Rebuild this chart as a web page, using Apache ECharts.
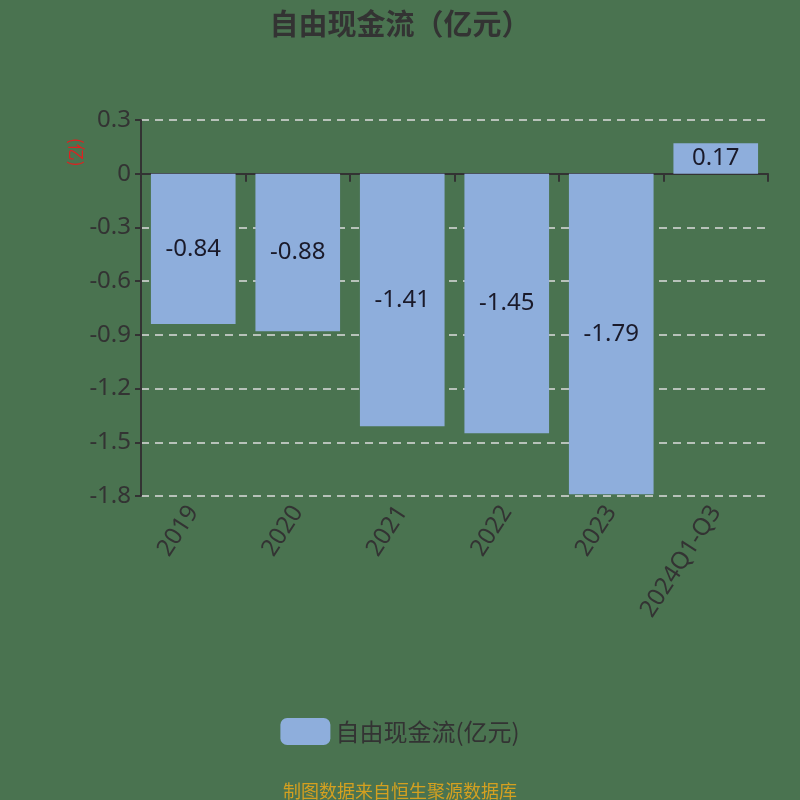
<!DOCTYPE html>
<html><head><meta charset="utf-8">
<script src="https://cdn.jsdelivr.net/npm/echarts@6/dist/echarts.min.js"></script>
<style>html,body{margin:0;padding:0;background:#4a7350;}#c{width:800px;height:800px;}</style>
</head><body><div id="c"></div>
<script>
const categories = ['2019','2020','2021','2022','2023','2024Q1-Q3'];
const values = [-0.84,-0.88,-1.41,-1.45,-1.79,0.17];
const yTicks = {min:-1.8, max:0.3, interval:0.3};
const seriesName = '自由现金流(亿元)';

const chart = echarts.init(document.getElementById('c'));
chart.setOption({
  backgroundColor:'#4a7350',
  animation:false,
  title:{text:'自由现金流（亿元）',left:'center',top:4,textStyle:{fontSize:29,fontWeight:'bold',color:'#333',fontFamily:'Noto Sans CJK SC'}},
  graphic:[{type:'text',left:68,top:138,rotation:-Math.PI/2,style:{text:'(亿)',fill:'#e02020',font:'17px "Noto Sans CJK SC"'}}],
  legend:{bottom:50,left:'center',itemWidth:50,itemHeight:27,itemGap:10,
    textStyle:{fontSize:24,color:'#333',fontFamily:'Noto Sans CJK SC'},data:[seriesName]},
  grid:{left:141,right:32,top:120,bottom:304},
  xAxis:[
    {type:'category',data:categories,axisLine:{onZero:true,lineStyle:{color:'#333',width:2}},
     axisTick:{show:true,length:8,lineStyle:{color:'#333',width:2}},axisLabel:{show:false}},
    {type:'category',data:categories,position:'bottom',axisLine:{show:false},axisTick:{show:false},
     axisLabel:{rotate:57,fontSize:24,color:'#333',margin:12,fontFamily:'Noto Sans'}}
  ],
  yAxis:{type:'value',min:yTicks.min,max:yTicks.max,interval:yTicks.interval,
    axisLine:{show:true,lineStyle:{color:'#333',width:2}},axisTick:{show:true,length:6,lineStyle:{color:'#333',width:2}},
    axisLabel:{fontSize:24,color:'#333',margin:10,fontFamily:'Noto Sans'},
    splitLine:{lineStyle:{color:'#ddd',type:[8,6],width:1.5}}},
  series:[{name:seriesName,type:'bar',data:values,xAxisIndex:0,barCategoryGap:'19%',
    itemStyle:{color:'#8eaedc'},
    label:{show:true,position:'inside',fontSize:24,color:'#1a1a2a',fontFamily:'Noto Sans'}}],
  textStyle:{fontFamily:'Noto Sans CJK SC'}
});
</script>
<div style="position:absolute;left:0;top:777px;width:800px;text-align:center;font:18px 'Noto Sans CJK SC';color:#d4a020;">制图数据来自恒生聚源数据库</div>
</body></html>
